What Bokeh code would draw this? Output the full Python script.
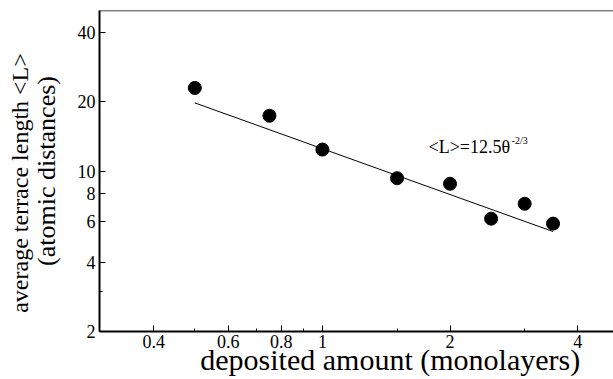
from bokeh.plotting import figure
from bokeh.models import FixedTicker, Span, Label, CustomJSTickFormatter, LogAxis
from bokeh.embed import file_html
from bokeh.resources import INLINE

# data
coverage = [0.5, 0.75, 1.0, 1.5, 2.0, 2.5, 3.0, 3.5]
terrace = [23.0, 17.4, 12.4, 9.3, 8.8, 6.2, 7.2, 5.9]
fit_x = [0.5, 3.5]
fit_y = [19.8, 5.45]
x_ticks = [0.4, 0.6, 0.8, 1, 2, 4]
x_minor = [0.5, 0.7, 0.9, 1.5, 3]
y_ticks = [2, 4, 6, 8, 10, 20, 40]
y_minor = [3]

SERIF = "Liberation Serif"

p = figure(width=613, height=379, x_axis_type="log", y_axis_type="log",
           x_range=(0.298, 4.86), y_range=(2, 50),
           output_backend="svg", toolbar_location=None,
           min_border_left=99, min_border_right=0, min_border_top=10,
           min_border_bottom=48)

p.outline_line_color = None
p.xgrid.visible = False
p.ygrid.visible = False
p.background_fill_color = "white"
p.border_fill_color = "white"

fmt = CustomJSTickFormatter(code="return tick.toString();")

p.xaxis.ticker = FixedTicker(ticks=x_ticks, minor_ticks=x_minor)
p.yaxis.ticker = FixedTicker(ticks=y_ticks, minor_ticks=y_minor)
for ax in (p.xaxis, p.yaxis):
    ax.formatter = fmt
    ax.axis_line_width = 2
    ax.axis_line_color = "black"
    ax.major_tick_in = 6
    ax.major_tick_out = 0
    ax.minor_tick_in = 3
    ax.minor_tick_out = 0
    ax.major_tick_line_color = "black"
    ax.minor_tick_line_color = "black"
    ax.major_label_text_font = SERIF
    ax.major_label_text_font_size = "18px"
    ax.major_label_text_color = "black"
    ax.axis_label_text_font = SERIF
    ax.axis_label_text_font_style = "normal"
    ax.axis_label_text_color = "black"

p.xaxis.major_label_standoff = 3
p.yaxis.major_label_standoff = 4
p.xaxis.axis_label = "\u00a0" * 9 + "deposited amount (monolayers)"
p.xaxis.axis_label_text_font_size = "30px"
p.xaxis.axis_label_standoff = -8

# inner line of the y title on the main axis
p.yaxis.axis_label = "(atomic distances)"
p.yaxis.axis_label_text_font_size = "26px"
p.yaxis.axis_label_standoff = 14

# outer line of the y title on a bare second left axis
outer = LogAxis(ticker=FixedTicker(ticks=[], minor_ticks=[]),
                axis_label="average terrace length <L>" + "\u00a0" * 4,
                axis_line_color=None, major_tick_line_color=None,
                minor_tick_line_color=None,
                major_label_text_font_size="0px", major_label_standoff=0,
                axis_label_standoff=-4,
                axis_label_text_font=SERIF, axis_label_text_font_size="24px",
                axis_label_text_font_style="normal", axis_label_text_color="black")
p.add_layout(outer, "left")

p.add_layout(Span(location=50, dimension="width", line_color="black", line_width=1.5))

p.line(fit_x, fit_y, line_color="black", line_width=1)
p.scatter(coverage, terrace, size=13, color="black")

p.add_layout(Label(x=1.78, y=12.7, text="<L>=12.5\u03b8", text_font=SERIF,
                   text_font_size="18px", text_baseline="alphabetic", text_color="black"))
p.add_layout(Label(x=1.78, y=12.7, x_offset=83, y_offset=7, text="-2/3", text_font=SERIF,
                   text_font_size="10px", text_baseline="alphabetic", text_color="black"))

open("out.html", "w").write(file_html(p, INLINE))
